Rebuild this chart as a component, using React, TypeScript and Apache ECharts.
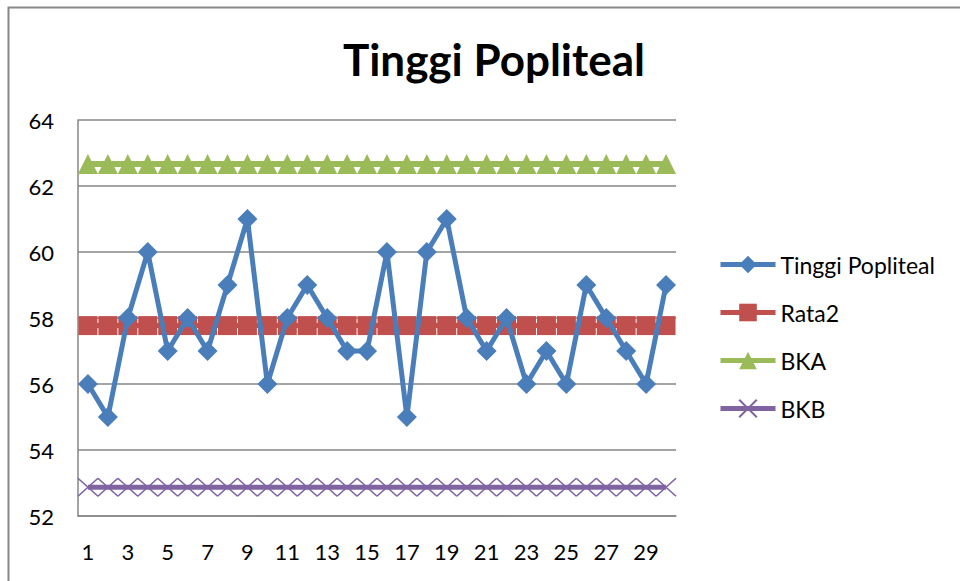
import React, { useEffect, useRef } from "react";
import * as echarts from "echarts";

const categories = ["1","2","3","4","5","6","7","8","9","10","11","12","13","14","15","16","17","18","19","20","21","22","23","24","25","26","27","28","29","30"];
const tinggiPopliteal = [56,55,58,60,57,58,57,59,61,56,58,59,58,57,57,60,55,60,61,58,57,58,56,57,56,59,58,57,56,59];
const rata2 = [57.77,57.77,57.77,57.77,57.77,57.77,57.77,57.77,57.77,57.77,57.77,57.77,57.77,57.77,57.77,57.77,57.77,57.77,57.77,57.77,57.77,57.77,57.77,57.77,57.77,57.77,57.77,57.77,57.77,57.77];
const bka = [62.67,62.67,62.67,62.67,62.67,62.67,62.67,62.67,62.67,62.67,62.67,62.67,62.67,62.67,62.67,62.67,62.67,62.67,62.67,62.67,62.67,62.67,62.67,62.67,62.67,62.67,62.67,62.67,62.67,62.67];
const bkb = [52.87,52.87,52.87,52.87,52.87,52.87,52.87,52.87,52.87,52.87,52.87,52.87,52.87,52.87,52.87,52.87,52.87,52.87,52.87,52.87,52.87,52.87,52.87,52.87,52.87,52.87,52.87,52.87,52.87,52.87];

const FONT = "Lato, 'Open Sans', sans-serif";
const X_SYMBOL = "path://M0,0L10,10M10,0L0,10";

export default function App() {
  const ref = useRef<HTMLDivElement>(null);
  useEffect(() => {
    const chart = echarts.init(ref.current!, null, { renderer: "svg" });
    chart.setOption({
      animation: false,
      backgroundColor: "#ffffff",
      textStyle: { fontFamily: FONT },
      title: {
        text: "Tinggi Popliteal",
        left: 489,
        textAlign: "center",
        top: 32,
        textStyle: { fontFamily: FONT, fontSize: 44, fontWeight: "bold", color: "#000" },
      },
      graphic: [
        {
          type: "rect",
          shape: { x: 8.5, y: 7.5, width: 1000, height: 1000 },
          style: { fill: "none", stroke: "#888888", lineWidth: 2 },
          silent: true,
        },
      ],
      legend: {
        orient: "vertical",
        left: 718,
        top: 253,
        padding: 0,
        itemGap: 25,
        itemWidth: 55,
        itemHeight: 22,
        lineStyle: { width: 5 },
        textStyle: { fontFamily: FONT, fontSize: 23, color: "#000" },
        data: ["Tinggi Popliteal", "Rata2", "BKA", "BKB"],
      },
      grid: { left: 78, top: 120, right: 284, bottom: 65, containLabel: false },
      xAxis: {
        type: "category",
        data: categories,
        boundaryGap: true,
        axisLine: { show: true, lineStyle: { color: "#868686", width: 1.5 } },
        axisTick: { show: false },
        axisLabel: { interval: 1, color: "#000", fontSize: 22, fontFamily: FONT, margin: 24 },
      },
      yAxis: {
        type: "value",
        min: 52,
        max: 64,
        interval: 2,
        axisLine: { show: true, lineStyle: { color: "#868686", width: 1.5 } },
        axisTick: { show: false },
        axisLabel: { color: "#000", fontSize: 22, fontFamily: FONT, margin: 24 },
        splitLine: { show: true, lineStyle: { color: "#868686", width: 1.5 } },
      },
      series: [
        {
          name: "BKB",
          type: "line",
          data: bkb,
          symbol: X_SYMBOL,
          symbolSize: [20, 18],
          showAllSymbol: true,
          lineStyle: { color: "#8064A2", width: 5 },
          itemStyle: { color: "#8064A2", borderColor: "#8064A2", borderWidth: 1.5 },
          z: 2,
        },
        {
          name: "BKA",
          type: "line",
          data: bka,
          symbol: "triangle",
          symbolSize: [20, 20],
          showAllSymbol: true,
          lineStyle: { color: "#9BBB59", width: 6 },
          itemStyle: { color: "#9BBB59" },
          z: 2,
        },
        {
          name: "Rata2",
          type: "line",
          data: rata2,
          symbol: "rect",
          symbolSize: [19, 19],
          showAllSymbol: true,
          lineStyle: { color: "#C0504D", width: 5 },
          itemStyle: { color: "#C0504D" },
          z: 3,
        },
        {
          name: "Tinggi Popliteal",
          type: "line",
          data: tinggiPopliteal,
          symbol: "diamond",
          symbolSize: [20, 20],
          showAllSymbol: true,
          lineStyle: { color: "#4A7EBB", width: 5 },
          itemStyle: { color: "#4A7EBB" },
          z: 4,
        },
      ],
    });
    return () => chart.dispose();
  }, []);
  return <div ref={ref} style={{ width: 960, height: 581, position: "absolute", left: 0, top: 0 }} />;
}
